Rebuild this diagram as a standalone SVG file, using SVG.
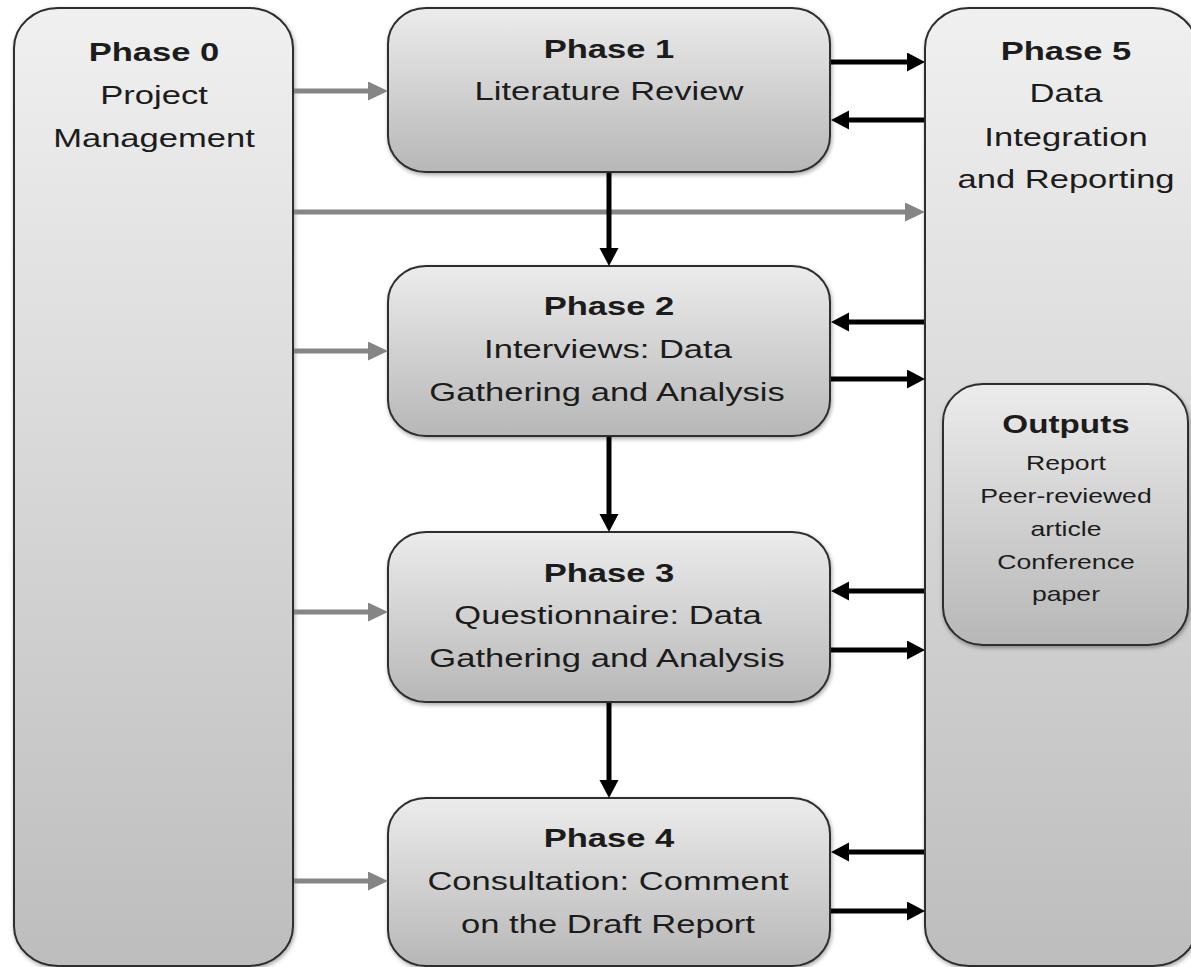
<svg xmlns="http://www.w3.org/2000/svg" width="1191" height="967" viewBox="0 0 1191 967">
<defs>
  <linearGradient id="gTall" x1="0" y1="0" x2="0" y2="1">
    <stop offset="0" stop-color="#f0f0f0"/>
    <stop offset="1" stop-color="#bdbdbd"/>
  </linearGradient>
  <linearGradient id="gBox" x1="0" y1="0" x2="0" y2="1">
    <stop offset="0" stop-color="#ececec"/>
    <stop offset="1" stop-color="#b7b7b7"/>
  </linearGradient>
  <filter id="sh" x="-10%" y="-10%" width="120%" height="120%">
    <feGaussianBlur in="SourceAlpha" stdDeviation="2"/>
    <feOffset dx="1" dy="2" result="b"/>
    <feComponentTransfer><feFuncA type="linear" slope="0.35"/></feComponentTransfer>
    <feMerge><feMergeNode/><feMergeNode in="SourceGraphic"/></feMerge>
  </filter>
  <marker id="ab" markerUnits="userSpaceOnUse" markerWidth="20" markerHeight="20" refX="6" refY="9.5" orient="auto">
    <path d="M0,0 L18,9.5 L0,19 z" fill="#000"/>
  </marker>
  <marker id="ag" markerUnits="userSpaceOnUse" markerWidth="22" markerHeight="20" refX="6" refY="9.5" orient="auto">
    <path d="M0,0 L20,9.5 L0,19 z" fill="#858585"/>
  </marker>
  <style>
    .box { stroke: #2e2e2e; stroke-width: 2; filter: url(#sh); }
    .t { font-family: "Liberation Sans", Arial, sans-serif; font-size: 26px; fill: #1c1c1c; text-anchor: middle; }
    .b { font-weight: bold; }
    .s { font-size: 20px; }
    .o { font-size: 25px; }
    .blk { stroke: #000; stroke-width: 5; fill: none; marker-end: url(#ab); }
    .gry { stroke: #858585; stroke-width: 5; fill: none; marker-end: url(#ag); }
  </style>
</defs>
<rect width="1191" height="967" fill="#ffffff"/>

<g id="phase0">
  <rect class="box" x="14" y="8" width="279" height="958" rx="44" ry="40" fill="url(#gTall)"/>
  <text class="t b" transform="matrix(1.33 0 0 1 154 0)" y="61">Phase 0</text>
  <text class="t" transform="matrix(1.33 0 0 1 154 0)" y="104">Project</text>
  <text class="t" transform="matrix(1.33 0 0 1 154 0)" y="147">Management</text>
</g>

<g id="phase5">
  <rect class="box" x="925" y="8" width="272" height="958" rx="44" ry="40" fill="url(#gTall)"/>
  <text class="t b" transform="matrix(1.33 0 0 1 1066 0)" y="60">Phase 5</text>
  <text class="t" transform="matrix(1.33 0 0 1 1066 0)" y="102">Data</text>
  <text class="t" transform="matrix(1.33 0 0 1 1066 0)" y="146">Integration</text>
  <text class="t" transform="matrix(1.33 0 0 1 1066 0)" y="188">and Reporting</text>
</g>

<g id="outputs">
  <rect class="box" x="943" y="384" width="245" height="261" rx="40" ry="38" fill="url(#gBox)"/>
  <text class="t b o" transform="matrix(1.33 0 0 1 1066 0)" y="433">Outputs</text>
  <text class="t s" transform="matrix(1.33 0 0 1 1066 0)" y="470">Report</text>
  <text class="t s" transform="matrix(1.33 0 0 1 1066 0)" y="503">Peer-reviewed</text>
  <text class="t s" transform="matrix(1.33 0 0 1 1066 0)" y="536">article</text>
  <text class="t s" transform="matrix(1.33 0 0 1 1066 0)" y="569">Conference</text>
  <text class="t s" transform="matrix(1.33 0 0 1 1066 0)" y="601">paper</text>
</g>

<g id="phase1">
  <rect class="box" x="388" y="8" width="442" height="164" rx="38" ry="36" fill="url(#gBox)"/>
  <text class="t b" transform="matrix(1.33 0 0 1 609 0)" y="58">Phase 1</text>
  <text class="t" transform="matrix(1.33 0 0 1 609 0)" y="100">Literature Review</text>
</g>

<g id="phase2">
  <rect class="box" x="388" y="266" width="442" height="170" rx="38" ry="36" fill="url(#gBox)"/>
  <text class="t b" transform="matrix(1.33 0 0 1 609 0)" y="315">Phase 2</text>
  <text class="t" transform="matrix(1.33 0 0 1 608 0)" y="358">Interviews: Data</text>
  <text class="t" transform="matrix(1.33 0 0 1 607 0)" y="401">Gathering and Analysis</text>
</g>

<g id="phase3">
  <rect class="box" x="388" y="532" width="442" height="170" rx="38" ry="36" fill="url(#gBox)"/>
  <text class="t b" transform="matrix(1.33 0 0 1 609 0)" y="582">Phase 3</text>
  <text class="t" transform="matrix(1.33 0 0 1 608 0)" y="624">Questionnaire: Data</text>
  <text class="t" transform="matrix(1.33 0 0 1 607 0)" y="667">Gathering and Analysis</text>
</g>

<g id="phase4">
  <rect class="box" x="388" y="798" width="442" height="168" rx="38" ry="36" fill="url(#gBox)"/>
  <text class="t b" transform="matrix(1.33 0 0 1 609 0)" y="847">Phase 4</text>
  <text class="t" transform="matrix(1.33 0 0 1 608 0)" y="890">Consultation: Comment</text>
  <text class="t" transform="matrix(1.33 0 0 1 608 0)" y="933">on the Draft Report</text>
</g>

<g id="connectors">
  <line class="gry" x1="294" y1="91" x2="374" y2="91"/>
  <line class="gry" x1="294" y1="212" x2="911" y2="212"/>
  <line class="gry" x1="294" y1="351" x2="374" y2="351"/>
  <line class="gry" x1="294" y1="612" x2="374" y2="612"/>
  <line class="gry" x1="294" y1="881" x2="374" y2="881"/>

  <line class="blk" x1="609" y1="173" x2="609" y2="254"/>
  <line class="blk" x1="609" y1="437" x2="609" y2="520"/>
  <line class="blk" x1="609" y1="703" x2="609" y2="786"/>

  <line class="blk" x1="831" y1="62" x2="913" y2="62"/>
  <line class="blk" x1="924" y1="120" x2="843" y2="120"/>
  <line class="blk" x1="924" y1="322" x2="843" y2="322"/>
  <line class="blk" x1="831" y1="379" x2="913" y2="379"/>
  <line class="blk" x1="924" y1="591" x2="843" y2="591"/>
  <line class="blk" x1="831" y1="650" x2="913" y2="650"/>
  <line class="blk" x1="924" y1="852" x2="843" y2="852"/>
  <line class="blk" x1="831" y1="911" x2="913" y2="911"/>
</g>
</svg>
